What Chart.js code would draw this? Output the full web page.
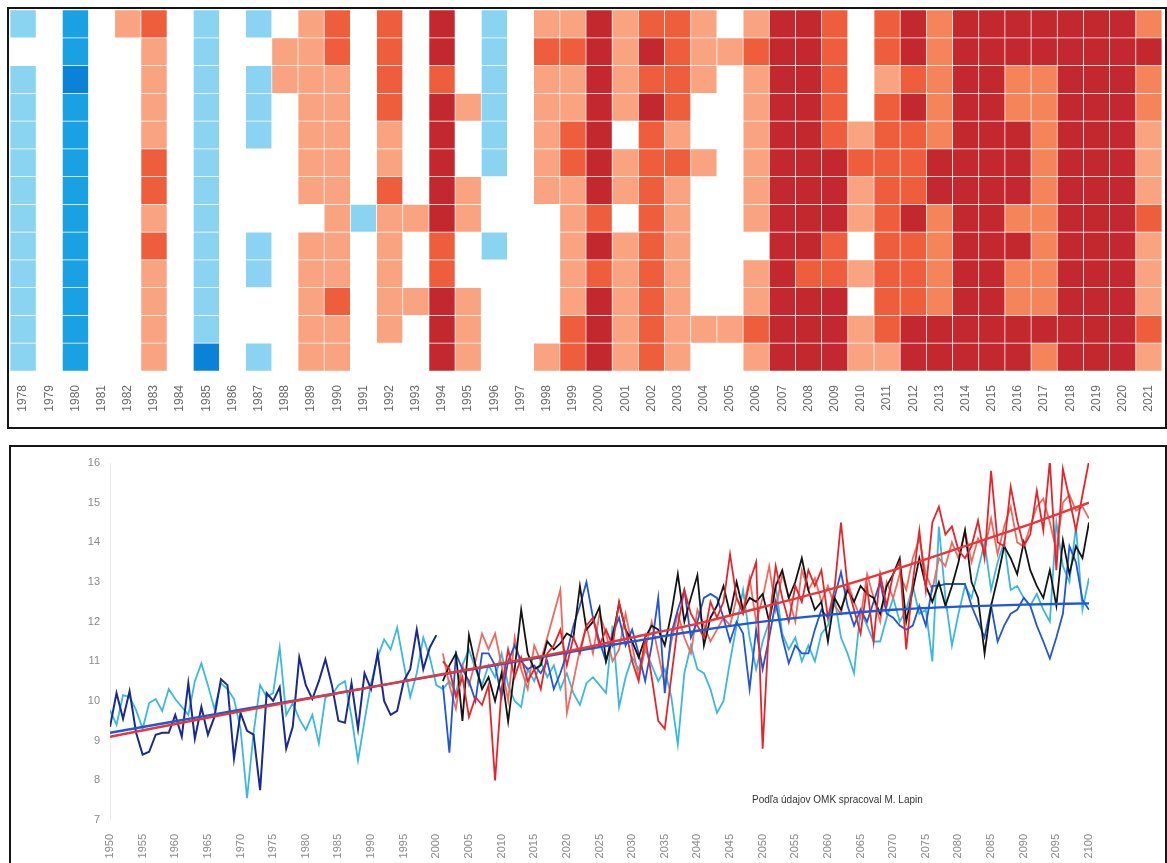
<!DOCTYPE html>
<html>
<head>
<meta charset="utf-8">
<script src="https://cdn.jsdelivr.net/npm/chart.js@4.4.1/dist/chart.umd.min.js"></script>
<style>
  html, body { margin: 0; padding: 0; background: #fff; width: 1167px; height: 863px; overflow: hidden; }
  body { position: relative; font-family: "Liberation Sans", Arial, sans-serif; }
  .panel { position: absolute; border: 2px solid #151515; box-sizing: border-box; pointer-events: none; z-index: 2; }
  canvas { position: absolute; }
  #note { position: absolute; left: 752px; top: 794px; font-size: 10px; color: #333; white-space: nowrap; z-index: 3; }
</style>
</head>
<body>
<div class="panel" style="left:7px; top:7px; width:1160px; height:422px;"></div>
<canvas id="heat" width="1152" height="414" style="left:10px; top:10px;"></canvas>
<div class="panel" style="left:9px; top:445px; width:1158px; height:426px;"></div>
<canvas id="lines" width="1152" height="415" style="left:12px; top:448px;"></canvas>
<div id="note">Podľa údajov OMK spracoval M. Lapin</div>
<script>
// ---------------- Heatmap data (13 rows per year, top to bottom) ----------------
const heatYears = ["1978","1979","1980","1981","1982","1983","1984","1985","1986","1987","1988","1989","1990","1991","1992","1993","1994","1995","1996","1997","1998","1999","2000","2001","2002","2003","2004","2005","2006","2007","2008","2009","2010","2011","2012","2013","2014","2015","2016","2017","2018","2019","2020","2021"];
// levels: -3 dark blue, -2 blue, -1 light blue, 0 none, 1 salmon, 2 orange, 3 orange-red, 4 dark red
const heatCols = [
  [-1,0,-1,-1,-1,-1,-1,-1,-1,-1,-1,-1,-1],
  [0,0,0,0,0,0,0,0,0,0,0,0,0],
  [-2,-2,-3,-2,-2,-2,-2,-2,-2,-2,-2,-2,-2],
  [0,0,0,0,0,0,0,0,0,0,0,0,0],
  [1,0,0,0,0,0,0,0,0,0,0,0,0],
  [3,1,1,1,1,3,3,1,3,1,1,1,1],
  [0,0,0,0,0,0,0,0,0,0,0,0,0],
  [-1,-1,-1,-1,-1,-1,-1,-1,-1,-1,-1,-1,-3],
  [0,0,0,0,0,0,0,0,0,0,0,0,0],
  [-1,0,-1,-1,-1,0,0,0,-1,-1,0,0,-1],
  [0,1,1,0,0,0,0,0,0,0,0,0,0],
  [1,1,1,1,1,1,1,0,1,1,1,1,1],
  [3,3,1,1,1,1,1,1,1,1,3,1,1],
  [0,0,0,0,0,0,0,-1,0,0,0,0,0],
  [3,3,3,3,1,1,3,1,1,1,1,1,0],
  [0,0,0,0,0,0,0,1,0,0,1,0,0],
  [4,4,3,4,4,4,4,4,3,3,4,4,4],
  [0,0,0,1,0,0,1,1,0,0,1,1,1],
  [-1,-1,-1,-1,-1,-1,0,0,-1,0,0,0,0],
  [0,0,0,0,0,0,0,0,0,0,0,0,0],
  [1,3,1,1,1,1,1,0,0,0,0,0,1],
  [1,3,1,1,3,3,1,1,1,1,1,3,3],
  [4,4,4,4,4,4,4,3,4,3,4,4,4],
  [1,1,1,1,0,1,1,0,1,1,1,1,1],
  [3,4,3,4,3,3,3,3,3,3,3,3,3],
  [3,3,3,3,1,3,1,1,1,1,1,1,1],
  [1,1,1,0,0,1,0,0,0,0,0,1,0],
  [0,1,0,0,0,0,0,0,0,0,0,1,0],
  [1,3,1,1,1,1,1,1,0,1,1,3,1],
  [4,4,4,4,4,4,4,4,4,4,4,4,4],
  [4,4,4,4,4,4,4,4,4,3,4,4,4],
  [3,3,3,3,3,4,4,4,3,3,4,4,4],
  [0,0,0,0,1,3,1,1,0,1,0,1,1],
  [3,3,1,3,3,3,3,3,3,3,3,3,1],
  [4,4,3,4,3,3,3,4,3,3,3,4,4],
  [2,2,2,2,2,4,4,2,2,2,2,4,4],
  [4,4,4,4,4,4,4,4,4,4,4,4,4],
  [4,4,4,4,4,4,4,4,4,4,4,4,4],
  [4,4,2,2,4,4,4,2,4,2,2,4,4],
  [4,4,2,2,2,2,2,2,2,2,2,4,2],
  [4,4,4,4,4,4,4,4,4,4,4,4,4],
  [4,4,4,4,4,4,4,4,4,4,4,4,4],
  [4,4,4,4,4,4,4,4,4,4,4,4,4],
  [2,4,2,2,1,1,1,3,1,1,1,3,1]
];
const levelColors = {"-3":"#0A82D8","-2":"#19A1E4","-1":"#8AD4F2","0":"#FFFFFF","1":"#F9A381","2":"#F5845B","3":"#EF5E3C","4":"#C2282E"};

// ---------------- Line chart data ----------------
const navyStart = 1950;
const navy = [9.35,10.2,9.55,10.25,9.2,8.65,8.72,9.15,9.2,9.2,
  9.65,9.1,10.45,9.05,9.85,9.15,9.6,10.55,10.4,8.55,
  9.7,9.25,9.15,7.75,10.2,10.0,10.35,8.8,9.35,11.1,
  10.4,10.05,10.5,11.05,10.4,9.5,9.45,10.45,9.3,10.7,
  10.3,11.2,10.0,9.65,9.75,10.5,10.8,11.8,10.8,11.35,
  11.66];
const cyanStart = 1950;
const cyan = [9.77,9.4,10.15,10.1,9.77,9.3,9.95,10.05,9.75,10.3,
  10.05,9.85,9.65,10.5,10.95,10.4,9.8,10.45,10.3,10.05,
  9.3,7.55,9.2,10.4,10.1,10.2,11.35,9.65,9.95,9.55,
  9.27,9.65,8.93,10.1,10.15,10.4,10.5,9.6,8.5,9.5,
  10.45,11.1,11.55,11.3,11.85,10.95,10.1,10.7,11.6,11.1,
  10.4,10.3,10.5,10.2,10.9,11.3,10.8,10.4,10.9,10.6,
  11.2,10.4,10.0,9.85,10.8,10.5,11.0,10.6,10.9,10.3,
  10.7,10.2,9.9,10.45,10.6,10.4,10.2,11.9,9.85,10.6,
  11.1,10.8,11.3,10.9,10.5,10.8,10.1,8.9,10.7,11.4,
  10.8,10.7,10.3,9.7,10.0,11.0,11.9,12.8,11.6,10.8,
  11.5,12.0,12.9,11.7,11.3,11.6,11.0,11.4,11.0,11.7,
  11.9,12.6,11.6,11.2,10.7,12.3,11.9,11.5,11.5,12.1,
  12.6,12.0,12.3,12.9,12.2,12.3,11.0,14.4,12.6,11.4,
  12.2,12.9,12.6,13.3,14.0,12.8,13.5,14.0,12.8,12.9,
  12.6,12.4,12.7,12.3,12.0,14.5,13.4,13.0,14.4,12.3,
  13.1];
const scenStart = 2001;
const black = [10.5,10.9,11.2,9.5,11.66,10.9,10.3,10.6,10.0,10.7,
  9.48,10.8,12.3,11.2,10.8,10.9,11.5,11.3,11.45,11.7,
  11.6,12.9,11.8,12.0,12.37,11.0,11.6,12.46,11.8,11.5,
  11.1,11.6,11.9,11.8,11.4,12.2,13.2,12.0,12.6,13.17,
  11.4,12.1,12.4,12.9,12.2,13.0,12.3,12.6,12.5,12.7,
  12.0,12.9,13.3,12.6,13.0,13.6,12.8,12.3,12.5,11.5,
  12.6,12.3,12.8,12.5,12.9,12.7,12.6,12.2,12.9,13.2,
  13.6,12.0,12.8,13.6,12.9,12.5,13.0,12.4,12.9,13.5,
  14.3,13.0,12.6,11.2,12.4,13.1,13.9,13.6,13.2,14.0,
  13.3,12.9,12.6,13.3,12.4,14.05,13.2,13.9,13.6,14.5];
const red = [11.0,10.8,10.1,10.6,9.6,10.1,9.9,10.4,8.0,10.3,
  11.3,10.6,11.1,10.5,10.8,10.3,11.2,11.4,11.8,10.9,
  11.6,11.2,11.9,12.1,11.4,11.8,11.4,12.5,11.8,11.0,
  10.5,11.6,10.6,9.5,9.3,10.6,11.9,12.8,12.2,11.9,
  11.6,12.5,12.1,12.5,13.7,12.6,12.2,13.0,13.5,8.8,
  12.0,13.4,12.6,12.0,12.9,12.5,13.3,12.9,13.3,12.1,
  12.8,14.5,12.9,12.3,11.7,12.9,11.5,13.2,12.4,13.2,
  13.5,11.3,13.0,14.3,12.8,14.5,14.9,14.2,14.4,13.8,
  13.6,13.9,14.55,13.6,15.8,14.0,13.9,15.4,14.55,13.9,
  14.2,15.3,14.3,16.05,13.3,15.85,15.1,14.3,15.2,16.05];
const salmon = [11.2,10.4,9.8,10.9,10.4,11.0,11.7,11.3,11.7,10.9,
  10.0,11.6,10.8,10.3,11.4,11.0,11.6,12.2,12.8,9.7,
  10.5,11.3,11.9,11.2,12.2,11.7,11.0,11.3,12.2,11.4,
  10.6,11.3,12.0,11.2,10.4,11.5,12.2,11.6,11.2,12.3,
  11.9,11.5,11.8,12.1,11.9,12.6,12.3,13.1,12.0,12.6,
  13.4,12.3,13.2,12.6,12.0,13.3,12.8,13.1,12.5,12.9,
  12.4,12.2,13.0,12.5,12.1,13.2,12.6,12.0,13.0,12.6,
  13.2,12.8,13.6,14.1,13.2,12.8,13.6,13.4,14.0,13.6,
  14.3,13.5,14.1,13.8,14.6,13.7,14.4,14.9,14.0,13.9,
  14.4,14.9,15.1,14.5,13.8,15.0,15.2,14.8,14.9,14.6];
const royal = [10.4,8.7,11.2,10.8,10.5,10.0,11.2,11.2,10.9,10.1,
  11.0,11.4,11.0,10.8,10.9,10.7,11.0,10.3,10.7,11.2,
  11.9,12.4,13.0,12.1,11.5,11.0,11.7,12.1,11.4,11.8,
  11.2,10.5,11.4,12.6,10.2,11.7,12.3,12.8,11.6,12.0,
  12.6,12.7,12.6,12.1,11.5,12.0,11.7,10.3,11.8,10.8,
  11.6,12.5,11.6,10.95,11.4,11.2,11.2,11.8,12.3,12.1,
  12.6,13.25,12.4,11.9,12.3,12.0,12.5,13.0,12.2,12.1,
  11.9,11.8,11.9,12.4,11.9,12.9,12.9,12.95,12.95,12.95,
  12.95,12.4,12.0,11.6,12.4,11.5,11.9,12.2,12.3,12.6,
  12.4,11.9,11.5,11.07,11.6,12.2,13.9,13.5,12.55,12.3];
const trendYears = [1950,1960,1970,1980,1990,2000,2010,2020,2030,2040,2050,2060,2070,2080,2090,2100];
const trendRed  = [9.1,9.42,9.74,10.05,10.35,10.65,10.95,11.25,11.6,11.95,12.37,12.8,13.3,13.85,14.4,15.0];
const trendBlue = [9.2,9.49,9.78,10.06,10.35,10.64,10.93,11.22,11.5,11.77,12.0,12.17,12.3,12.38,12.43,12.46];
const xTickStep = 5;
const yMin = 7, yMax = 16;

// ---------------- Heatmap chart ----------------
const heatDatasets = [];
for (let r = 0; r < 13; r++) {
  heatDatasets.push({
    data: heatYears.map(() => 1),
    backgroundColor: heatCols.map(c => levelColors[String(c[r])]),
    borderColor: heatCols.map(c => c[r] === 0 ? 'rgba(255,255,255,0)' : 'rgba(255,255,255,0.28)'),
    borderWidth: 0.7,
    borderSkipped: false,
    barPercentage: 1,
    categoryPercentage: 1
  });
}
new Chart(document.getElementById('heat'), {
  type: 'bar',
  data: { labels: heatYears, datasets: heatDatasets },
  options: {
    responsive: false, animation: false, events: [],
    devicePixelRatio: 1,
    layout: { padding: 0 },
    plugins: { legend: { display: false }, tooltip: { enabled: false } },
    scales: {
      x: {
        stacked: true,
        grid: { display: false },
        border: { display: false },
        ticks: { color: '#6a6a6a', font: { size: 12, family: '"Liberation Sans", Arial, sans-serif' },
                 minRotation: 90, maxRotation: 90, autoSkip: false, padding: 6 },
        afterFit: s => { s.height = 53; s.paddingLeft = 0; s.paddingRight = 0; }
      },
      y: { stacked: true, display: false, min: 0, max: 13, reverse: true }
    }
  }
});

// ---------------- Line chart ----------------
const pts = (start, arr) => arr.map((v, i) => ({ x: start + i, y: v }));
const lineDs = (label, start, arr, color, w) => ({
  label, data: pts(start, arr), borderColor: color, backgroundColor: color,
  borderWidth: w, pointRadius: 0, tension: 0, fill: false
});
new Chart(document.getElementById('lines'), {
  type: 'line',
  data: {
    datasets: [
      { label: 'trendRed', data: trendYears.map((y, i) => ({ x: y, y: trendRed[i] })), borderColor: '#E8373A', borderWidth: 2.4, pointRadius: 0, cubicInterpolationMode: 'monotone', fill: false },
      { label: 'trendBlue', data: trendYears.map((y, i) => ({ x: y, y: trendBlue[i] })), borderColor: '#1E58D6', borderWidth: 2.4, pointRadius: 0, cubicInterpolationMode: 'monotone', fill: false },
      lineDs('red', scenStart, red, '#E4262C', 1.8),
      lineDs('black', scenStart, black, '#141414', 1.8),
      lineDs('royal', scenStart, royal, '#2356D4', 1.8),
      lineDs('salmon', scenStart, salmon, '#EE6A5E', 1.8),
      lineDs('navy', navyStart, navy, '#1B2A8F', 2),
      lineDs('cyan', cyanStart, cyan, '#3BB8DE', 1.8)
    ]
  },
  options: {
    responsive: false, animation: false, events: [],
    devicePixelRatio: 1,
    layout: { padding: { top: 15, right: 75, left: 0, bottom: 0 } },
    plugins: { legend: { display: false }, tooltip: { enabled: false } },
    scales: {
      x: {
        type: 'linear', min: 1950, max: 2100,
        grid: { display: false },
        border: { display: false },
        ticks: { stepSize: xTickStep, autoSkip: false, minRotation: 90, maxRotation: 90, padding: 6,
                 color: '#8a8a8a', font: { size: 11, family: '"Liberation Sans", Arial, sans-serif' },
                 callback: v => String(v) },
        afterFit: s => { s.height = 43; s.paddingLeft = 0; s.paddingRight = 0; }
      },
      y: {
        min: yMin, max: yMax,
        grid: { display: false, drawTicks: false },
        border: { display: true, color: '#ececec' },
        ticks: { stepSize: 1, padding: 10, color: '#8a8a8a', font: { size: 11, family: '"Liberation Sans", Arial, sans-serif' } },
        afterFit: s => { s.width = 98; s.paddingTop = 0; s.paddingBottom = 0; }
      }
    }
  }
});
</script>
</body>
</html>
